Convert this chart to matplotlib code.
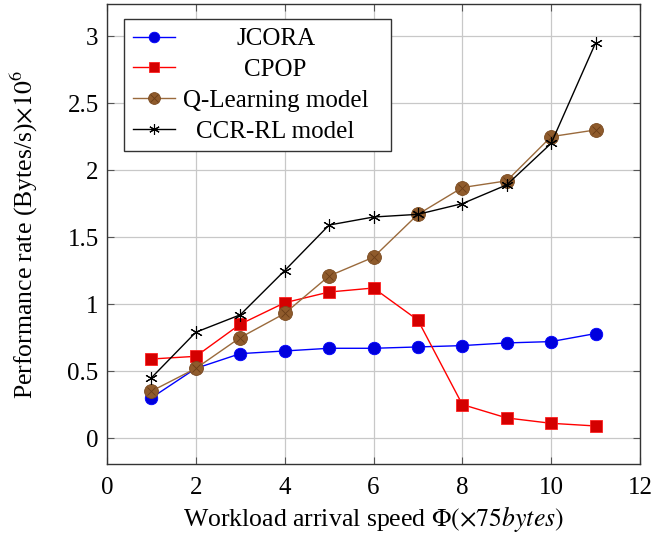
import matplotlib
matplotlib.use("Agg")
import matplotlib.pyplot as plt

plt.rcParams['font.family'] = ['Liberation Serif', 'DejaVu Serif']
plt.rcParams['mathtext.fontset'] = 'stix'

x = [1, 2, 3, 4, 5, 6, 7, 8, 9, 10, 11]
jcora = [0.30, 0.52, 0.63, 0.65, 0.67, 0.67, 0.68, 0.69, 0.71, 0.72, 0.78]
cpop = [0.59, 0.61, 0.85, 1.01, 1.09, 1.12, 0.88, 0.25, 0.15, 0.11, 0.09]
qlearn = [0.35, 0.52, 0.75, 0.93, 1.21, 1.35, 1.67, 1.87, 1.92, 2.25, 2.30]
ccrrl = [0.45, 0.79, 0.92, 1.25, 1.59, 1.65, 1.67, 1.75, 1.89, 2.20, 2.95]
labels = ['JCORA', 'CPOP', 'Q-Learning model', 'CCR-RL model']
xticks = [0, 2, 4, 6, 8, 10, 12]
yticks = [0, 0.5, 1, 1.5, 2, 2.5, 3]
yticklabels = ['0', '0.5', '1', '1.5', '2', '2.5', '3']

FS = 18

fig = plt.figure(figsize=(6.55, 5.37), dpi=100)
ax = fig.add_axes([0.1634, 0.1359, 0.8137, 0.8566])

h1, = ax.plot(x, jcora, color='#0000ff', lw=1.0, marker='o', ms=9,
              mfc='#0000dd', mec='#0000ff', mew=0.6, label=labels[0], zorder=3)
h2, = ax.plot(x, cpop, color='#ff0000', lw=1.0, marker='s', ms=9,
              mfc='#d40000', mec='#ff2020', mew=0.6, label=labels[1], zorder=3)
h3, = ax.plot(x, qlearn, color='#9a6a3c', lw=1.0, marker='o', ms=10,
              mfc='#8f5b2c', mec='#7a4a20', mew=0.6, label=labels[2], zorder=3)
h3x, = ax.plot(x, qlearn, ls='none', marker='x', ms=6, mec='#6a3d18', mew=0.6, zorder=3.5)
h4, = ax.plot(x, ccrrl, color='black', lw=1.0, marker=(6, 2, 0), ms=9,
              mec='black', mew=0.8, label=labels[3], zorder=4)

ax.set_xlim(0, 12)
ax.set_ylim(-0.194, 3.24)
ax.set_xticks(xticks)
ax.set_xticklabels([str(t) for t in xticks])
ax.set_yticks(yticks)
ax.set_yticklabels(yticklabels)
ax.grid(True, color='#c8c8c8', lw=0.9)
ax.set_axisbelow(True)
ax.tick_params(direction='in', top=True, right=True, length=5, width=0.8,
               labelsize=FS, colors='black')
ax.tick_params(axis='x', pad=9)
ax.tick_params(axis='y', pad=6)
ax.tick_params(axis='both', color='#555555')
for s in ax.spines.values():
    s.set_color('#333333')
    s.set_linewidth(1.0)

ax.set_xlabel(r'Workload arrival speed $\Phi(\times 75 bytes)$', fontsize=18.5, labelpad=4)
ax.set_ylabel(r'Performance rate (Bytes/s)$\times10^6$', fontsize=18.5, labelpad=20)

leg = ax.legend(handles=[h1, h2, (h3, h3x), h4], labels=labels, loc='upper left',
                bbox_to_anchor=(0.0319, 0.967), fontsize=FS, frameon=True,
                fancybox=False, framealpha=1, edgecolor='#333333',
                handlelength=1.7, handletextpad=0.3, borderpad=0.35,
                labelspacing=0.33, borderaxespad=0, markerscale=0.85)
leg.get_frame().set_linewidth(1.0)

# extra right padding of the legend frame
_frame = leg.get_frame()
_orig_set_bounds = _frame.set_bounds
def _set_bounds(*args):
    if len(args) == 1:
        l, b, w, h = args[0]
    else:
        l, b, w, h = args
    _orig_set_bounds(l, b, w + 14, h)
_frame.set_bounds = _set_bounds

fig.canvas.draw()
r = fig.canvas.get_renderer()
widths = [t.get_window_extent(r).width for t in leg.get_texts()]
mw = max(widths)
for t, w in zip(leg.get_texts(), widths):
    t.set_x((mw - w) / 2)

fig.savefig('out.png', dpi=100)
